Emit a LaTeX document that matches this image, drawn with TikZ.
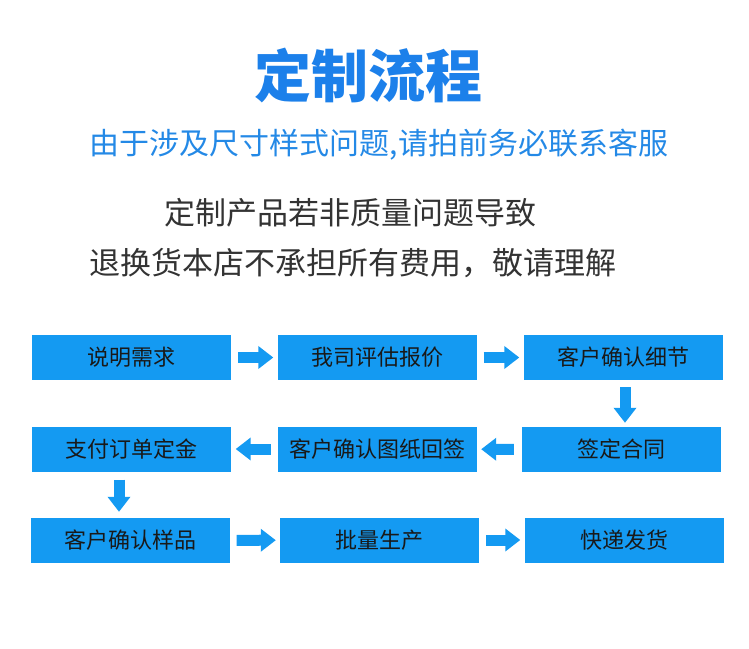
\documentclass[tikz,border=0pt]{standalone}
\usepackage{fontspec}
\setmainfont{Noto Sans CJK SC}
\usetikzlibrary{arrows.meta}
\definecolor{titleblue}{RGB}{28,128,234}
\definecolor{subblue}{RGB}{36,137,230}
\definecolor{boxblue}{RGB}{20,154,242}
\definecolor{textgray}{RGB}{51,51,51}

\begin{document}
\begin{tikzpicture}[x=1pt, y=-1pt,
        stepbox/.style={fill=boxblue, minimum width=199pt, minimum height=45pt, inner sep=0pt, font=\fontsize{22}{22}\selectfont, text=black!90},
        flow/.style={draw=boxblue, line width=11pt, -{Triangle[length=15pt,width=22pt]}, shorten <=7pt, shorten >=4pt}]
        \useasboundingbox (0,0) rectangle (749,648);
        \node[titleblue, font=\fontsize{57}{57}\selectfont\bfseries] (title) at (368,75) {定制流程};
        \node[subblue, font=\fontsize{30}{30}\selectfont] (sub) at (379,145) {由于涉及尺寸样式问题,请拍前务必联系客服};
        \node[textgray, font=\fontsize{31}{31}\selectfont] (note1) at (350,213) {定制产品若非质量问题导致};
        \node[textgray, font=\fontsize{31}{31}\selectfont] (note2) at (353,263) {退换货本店不承担所有费用，敬请理解};
        \node[stepbox] (b1) at (131.5,357.5) {说明需求};
        \node[stepbox] (b2) at (377,357.5) {我司评估报价};
        \node[stepbox] (b3) at (623,357.5) {客户确认细节};
        \node[stepbox] (b4) at (131,449) {支付订单定金};
        \node[stepbox] (b5) at (377.5,449) {客户确认图纸回签};
        \node[stepbox] (b6) at (621.5,449.5) {签定合同};
        \node[stepbox] (b7) at (130,540.5) {客户确认样品};
        \node[stepbox] (b8) at (379.5,540) {批量生产};
        \node[stepbox] (b9) at (624,540) {快递发货};
        \draw[flow] (b1) -- (b2);
        \draw[flow] (b2) -- (b3);
        \draw[flow] ([xshift=2pt]b3.south) -- ([xshift=2pt]b3.south |- b6.north);
        \draw[flow, shorten <=8pt] (b6) -- (b5);
        \draw[flow, shorten <=7pt, shorten >=5pt] (b5) -- (b4);
        \draw[flow, shorten <=8pt, shorten >=6pt] ([xshift=-12pt]b4.south) -- ([xshift=-12pt]b4.south |- b7.north);
        \draw[flow] (b7) -- (b8);
        \draw[flow] (b8) -- (b9);
\end{tikzpicture}
\end{document}
